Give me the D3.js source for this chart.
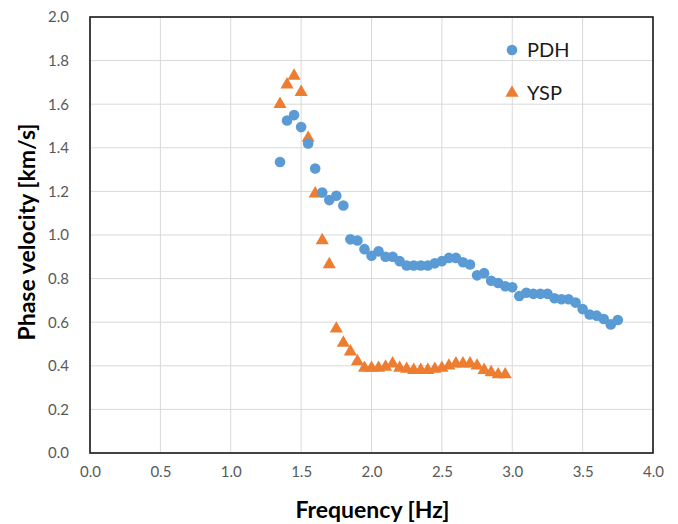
<!DOCTYPE html>
<html>
<head>
<meta charset="utf-8">
<script src="https://cdn.jsdelivr.net/npm/d3@7"></script>
<style>
  html, body { margin: 0; padding: 0; background: #fff; }
  svg { display: block; }
</style>
</head>
<body>
<div id="chart"></div>
<script>
const pdhFreq = [1.35,1.40,1.45,1.50,1.55,1.60,1.65,1.70,1.75,1.80,1.85,1.90,1.95,2.00,2.05,2.10,2.15,2.20,2.25,2.30,2.35,2.40,2.45,2.50,2.55,2.60,2.65,2.70,2.75,2.80,2.85,2.90,2.95,3.00,3.05,3.10,3.15,3.20,3.25,3.30,3.35,3.40,3.45,3.50,3.55,3.60,3.65,3.70,3.75];
const pdhVel  = [1.335,1.525,1.55,1.495,1.42,1.305,1.195,1.16,1.18,1.135,0.98,0.975,0.935,0.905,0.925,0.90,0.90,0.88,0.86,0.86,0.86,0.86,0.87,0.88,0.895,0.895,0.875,0.865,0.815,0.825,0.79,0.78,0.765,0.76,0.72,0.735,0.73,0.73,0.73,0.71,0.705,0.705,0.69,0.66,0.635,0.63,0.615,0.59,0.61];
const yspFreq = [1.35,1.40,1.45,1.50,1.55,1.60,1.65,1.70,1.75,1.80,1.85,1.90,1.95,2.00,2.05,2.10,2.15,2.20,2.25,2.30,2.35,2.40,2.45,2.50,2.55,2.60,2.65,2.70,2.75,2.80,2.85,2.90,2.95];
const yspVel  = [1.60,1.69,1.73,1.655,1.445,1.19,0.975,0.865,0.57,0.505,0.465,0.42,0.39,0.39,0.39,0.395,0.41,0.39,0.385,0.38,0.38,0.38,0.385,0.39,0.40,0.41,0.41,0.41,0.40,0.38,0.37,0.36,0.36];
const xTicks = [0,0.5,1.0,1.5,2.0,2.5,3.0,3.5,4.0];
const yTicks = [0,0.2,0.4,0.6,0.8,1.0,1.2,1.4,1.6,1.8,2.0];
const seriesNames = ["PDH","YSP"];
const seriesColors = ["#5B9BD5","#ED7D31"];
const xTitle = "Frequency [Hz]";
const yTitle = "Phase velocity [km/s]";

const W = 678, H = 524;
const m = {left: 90, right: W - 653, top: 17, bottom: H - 453};
const svg = d3.select("#chart").append("svg").attr("width", W).attr("height", H);
const font = "Lato, 'Open Sans', sans-serif";

const x = d3.scaleLinear().domain([0,4]).range([m.left, W - m.right]);
const y = d3.scaleLinear().domain([0,2]).range([H - m.bottom, m.top]);

// grid
svg.append("g").selectAll("line.h").data(yTicks).join("line")
  .attr("x1", x(0)).attr("x2", x(4)).attr("y1", d => y(d)).attr("y2", d => y(d))
  .attr("stroke", "#d9d9d9").attr("stroke-width", 1);
svg.append("g").selectAll("line.v").data(xTicks).join("line")
  .attr("y1", y(0)).attr("y2", y(2)).attr("x1", d => x(d)).attr("x2", d => x(d))
  .attr("stroke", "#d9d9d9").attr("stroke-width", 1);

// axes labels via d3 axes
const xAxis = svg.append("g").attr("transform", `translate(0,${y(0)})`)
  .call(d3.axisBottom(x).tickValues(xTicks).tickFormat(d3.format(".1f")).tickSize(0).tickPadding(13));
const yAxis = svg.append("g").attr("transform", `translate(${x(0)},0)`)
  .call(d3.axisLeft(y).tickValues(yTicks).tickFormat(d3.format(".1f")).tickSize(0).tickPadding(21));
[xAxis, yAxis].forEach(a => {
  a.select(".domain").remove();
  a.selectAll("text").attr("font-family", font).attr("font-size", 15).attr("fill", "#595959");
});

// border
svg.append("rect").attr("x", x(0)).attr("y", y(2)).attr("width", x(4) - x(0)).attr("height", y(0) - y(2))
  .attr("fill", "none").attr("stroke", "#1a1a1a").attr("stroke-width", 1.6);

// data
const pdh = pdhFreq.map((f, i) => ({f, v: pdhVel[i]}));
const ysp = yspFreq.map((f, i) => ({f, v: yspVel[i]}));
const tri = d3.symbol().type(d3.symbolTriangle).size(75);

svg.append("g").selectAll("path").data(ysp).join("path")
  .attr("d", tri).attr("transform", d => `translate(${x(d.f)},${y(d.v)})`)
  .attr("fill", seriesColors[1]);
svg.append("g").selectAll("circle").data(pdh).join("circle")
  .attr("cx", d => x(d.f)).attr("cy", d => y(d.v)).attr("r", 5.3)
  .attr("fill", seriesColors[0]);

// legend
const lg = svg.append("g");
lg.append("circle").attr("cx", 512).attr("cy", 50).attr("r", 5.3).attr("fill", seriesColors[0]);
lg.append("path").attr("d", tri).attr("transform", "translate(512,93)").attr("fill", seriesColors[1]);
lg.selectAll("text").data(seriesNames).join("text")
  .attr("x", 527).attr("y", (d, i) => 50 + i * 43).attr("dy", "0.35em")
  .attr("font-family", font).attr("font-size", 20).attr("fill", "#1a1a1a").text(d => d);

// titles
svg.append("text").attr("x", (x(0) + x(4)) / 2 + 1).attr("y", 510).attr("dy", "0.35em")
  .attr("text-anchor", "middle").attr("font-family", font).attr("font-size", 23).attr("font-weight", "bold")
  .attr("fill", "#000").text(xTitle);
svg.append("text").attr("transform", `translate(27,${(y(0) + y(2)) / 2 - 3}) rotate(-90)`).attr("dy", "0.35em")
  .attr("text-anchor", "middle").attr("font-family", font).attr("font-size", 23).attr("font-weight", "bold")
  .attr("fill", "#000").text(yTitle);
</script>
</body>
</html>
